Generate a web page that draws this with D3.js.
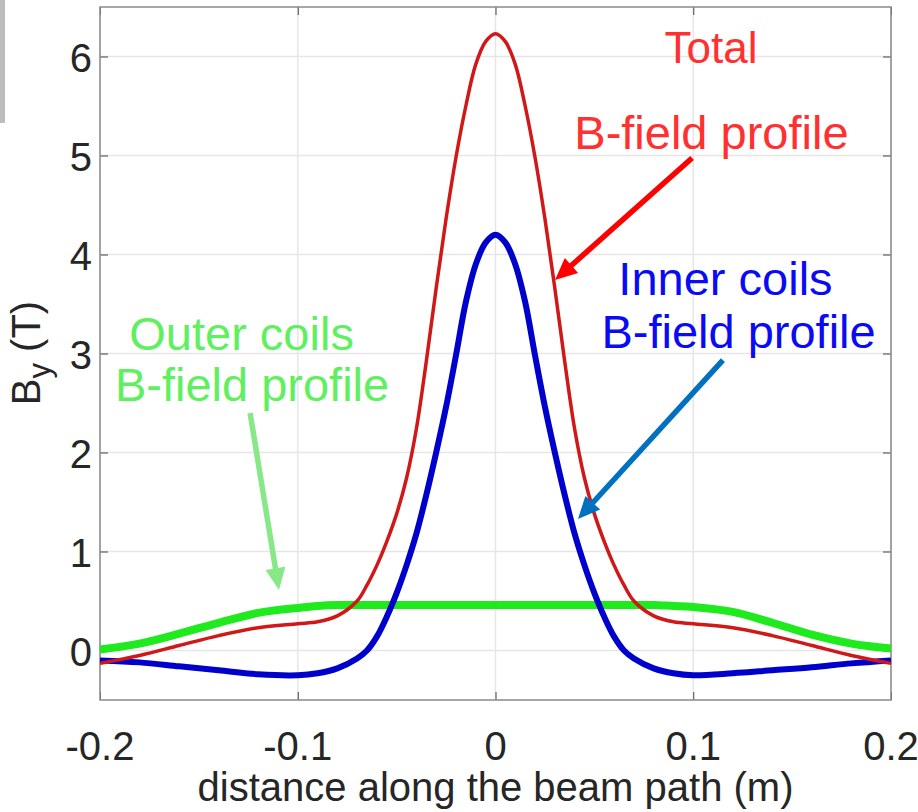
<!DOCTYPE html>
<html>
<head>
<meta charset="utf-8">
<script src="https://cdn.jsdelivr.net/npm/d3@7"></script>
<style>
    html, body { margin: 0; padding: 0; background: #fff; }
    svg { display: block; font-family: "Liberation Sans", Arial, sans-serif; }
</style>
</head>
<body>
<svg id="chart" width="918" height="812"></svg>
<script>
// distance along the beam path (m), denser sampling around the peak
const xPos = [-0.2, -0.18, -0.16, -0.14, -0.12, -0.1, -0.09, -0.08,
    -0.07, -0.065, -0.06, -0.055, -0.05, -0.045, -0.04, -0.035, -0.03, -0.025, -0.02, -0.015, -0.01, -0.005,
    0,
    0.005, 0.01, 0.015, 0.02, 0.025, 0.03, 0.035, 0.04, 0.045, 0.05, 0.055, 0.06, 0.065, 0.07,
    0.08, 0.09, 0.1, 0.12, 0.14, 0.16, 0.18, 0.2];

// By (T)
const totalField = [-0.13, -0.05, 0.05, 0.15, 0.23, 0.27, 0.29, 0.35,
    0.5, 0.66, 0.86, 1.1, 1.38, 1.74, 2.24, 2.92, 3.66, 4.36, 4.98, 5.5, 5.92, 6.15,
    6.23,
    6.15, 5.92, 5.5, 4.98, 4.36, 3.66, 2.92, 2.24, 1.74, 1.38, 1.1, 0.86, 0.66, 0.5,
    0.35, 0.29, 0.27, 0.23, 0.15, 0.05, -0.05, -0.13];
const innerField = [-0.1, -0.12, -0.16, -0.2, -0.24, -0.25, -0.23, -0.18,
    -0.08, 0.0, 0.14, 0.34, 0.58, 0.86, 1.18, 1.57, 2.0, 2.46, 2.98, 3.52, 3.9, 4.12,
    4.2,
    4.12, 3.9, 3.52, 2.98, 2.46, 2.0, 1.57, 1.18, 0.86, 0.58, 0.34, 0.14, 0.0, -0.08,
    -0.18, -0.23, -0.25, -0.23, -0.2, -0.17, -0.13, -0.1];
const outerField = [0.01, 0.07, 0.17, 0.28, 0.38, 0.43, 0.45, 0.46,
    0.46, 0.46, 0.46, 0.46, 0.46, 0.46, 0.46, 0.46, 0.46, 0.46, 0.46, 0.46, 0.46, 0.46,
    0.46,
    0.46, 0.46, 0.46, 0.46, 0.46, 0.46, 0.46, 0.46, 0.46, 0.46, 0.46, 0.46, 0.46, 0.46,
    0.46, 0.45, 0.44, 0.39, 0.28, 0.16, 0.07, 0.02];

const xTicks = [-0.2, -0.1, 0, 0.1, 0.2];
const xTickLabels = ['-0.2', '-0.1', '0', '0.1', '0.2'];
const yTicks = [0, 1, 2, 3, 4, 5, 6];

const svg = d3.select('#chart');
const plot = { left: 100, right: 891, top: 7, bottom: 700 };

const x = d3.scaleLinear().domain([-0.2, 0.2]).range([plot.left, plot.right]);
const y = d3.scaleLinear().domain([-0.5, 6.5]).range([plot.bottom, plot.top]);

// grey strip at the top left corner
svg.append('rect')
    .attr('x', 0).attr('y', 0)
    .attr('width', 5).attr('height', 123)
    .attr('fill', '#bcbcbc');

// grid
svg.append('g')
    .selectAll('line')
    .data(xTicks)
    .enter()
    .append('line')
    .attr('x1', function (d) { return x(d); })
    .attr('x2', function (d) { return x(d); })
    .attr('y1', plot.top)
    .attr('y2', plot.bottom)
    .attr('stroke', '#e6e6e6')
    .attr('stroke-width', 1.5);

svg.append('g')
    .selectAll('line')
    .data(yTicks)
    .enter()
    .append('line')
    .attr('x1', plot.left)
    .attr('x2', plot.right)
    .attr('y1', function (d) { return y(d); })
    .attr('y2', function (d) { return y(d); })
    .attr('stroke', '#e6e6e6')
    .attr('stroke-width', 1.5);

// axes, ticks pointing inwards on all four sides
const tickLen = 8;
svg.append('g')
    .attr('transform', 'translate(0,' + plot.bottom + ')')
    .call(d3.axisBottom(x).tickValues(xTicks).tickSize(-tickLen).tickFormat(''))
    .call(function (g) { g.select('.domain').remove(); });
svg.append('g')
    .attr('transform', 'translate(0,' + plot.top + ')')
    .call(d3.axisTop(x).tickValues(xTicks).tickSize(-tickLen).tickFormat(''))
    .call(function (g) { g.select('.domain').remove(); });
svg.append('g')
    .attr('transform', 'translate(' + plot.left + ',0)')
    .call(d3.axisLeft(y).tickValues(yTicks).tickSize(-tickLen).tickFormat(''))
    .call(function (g) { g.select('.domain').remove(); });
svg.append('g')
    .attr('transform', 'translate(' + plot.right + ',0)')
    .call(d3.axisRight(y).tickValues(yTicks).tickSize(-tickLen).tickFormat(''))
    .call(function (g) { g.select('.domain').remove(); });
svg.selectAll('.tick line').attr('stroke', '#444').attr('stroke-width', 1);

svg.append('rect')
    .attr('x', plot.left).attr('y', plot.top)
    .attr('width', plot.right - plot.left)
    .attr('height', plot.bottom - plot.top)
    .attr('fill', 'none')
    .attr('stroke', '#8a8a8a')
    .attr('stroke-width', 1.5);

// tick labels
svg.append('g')
    .selectAll('text')
    .data(xTicks)
    .enter()
    .append('text')
    .attr('x', function (d) { return x(d); })
    .attr('y', 760)
    .attr('text-anchor', 'middle')
    .attr('font-size', '40px')
    .attr('fill', '#262626')
    .text(function (d, i) { return xTickLabels[i]; });

svg.append('g')
    .selectAll('text')
    .data(yTicks)
    .enter()
    .append('text')
    .attr('x', 92)
    .attr('y', function (d) { return y(d) + 15; })
    .attr('text-anchor', 'end')
    .attr('font-size', '40px')
    .attr('fill', '#262626')
    .text(function (d) { return d; });

// axis titles
svg.append('text')
    .attr('x', x(0))
    .attr('y', 801)
    .attr('text-anchor', 'middle')
    .attr('font-size', '40px')
    .attr('fill', '#262626')
    .text('distance along the beam path (m)');

const yTitle = svg.append('text')
    .attr('transform', 'translate(40,353) rotate(-90)')
    .attr('text-anchor', 'middle')
    .attr('font-size', '40px')
    .attr('fill', '#262626');
yTitle.append('tspan').text('B');
yTitle.append('tspan').attr('dy', 10).attr('font-size', '31px').text('y');
yTitle.append('tspan').attr('dy', -10).text(' (T)');

// field profiles
const series = [
    { name: 'outer', values: outerField, color: '#1eea1e', width: 8 },
    { name: 'inner', values: innerField, color: '#0000cc', width: 6 },
    { name: 'total', values: totalField, color: '#d01818', width: 3.5 }
];

const line = d3.line()
    .x(function (d) { return x(d[0]); })
    .y(function (d) { return y(d[1]); })
    .curve(d3.curveCatmullRom.alpha(0.5));

svg.append('g')
    .selectAll('path')
    .data(series)
    .enter()
    .append('path')
    .attr('d', function (d) { return line(d3.zip(xPos, d.values)); })
    .attr('fill', 'none')
    .attr('stroke', function (d) { return d.color; })
    .attr('stroke-width', function (d) { return d.width; })
    .attr('stroke-linejoin', 'round');

// annotations (data coordinates)
const labels = [
    { text: 'Total', x: 0.109, y: 5.93, color: '#ff3030' },
    { text: 'B-field profile', x: 0.1092, y: 5.07, color: '#ff3030' },
    { text: 'Inner coils', x: 0.1163, y: 3.59, color: '#0a0af5' },
    { text: 'B-field profile', x: 0.1229, y: 3.06, color: '#0a0af5' },
    { text: 'Outer coils', x: -0.1284, y: 3.04, color: '#5ff05f' },
    { text: 'B-field profile', x: -0.1231, y: 2.52, color: '#5ff05f' }
];

svg.append('g')
    .selectAll('text')
    .data(labels)
    .enter()
    .append('text')
    .attr('x', function (d) { return x(d.x); })
    .attr('y', function (d) { return y(d.y); })
    .attr('text-anchor', 'middle')
    .attr('font-size', function (d) { return d.text === 'Total' ? '44px' : '47px'; })
    .attr('fill', function (d) { return d.color; })
    .text(function (d) { return d.text; });

const arrows = [
    { x1: 0.0994, y1: 4.975, x2: 0.0301, y2: 3.742, color: '#ff0000' },
    { x1: 0.115, y1: 2.934, x2: 0.0417, y2: 1.328, color: '#0070c0' },
    { x1: -0.1241, y1: 2.399, x2: -0.1095, y2: 0.611, color: '#88e888' }
];

const headLen = 22;
const headHalf = 10;
arrows.forEach(function (a) {
    const sx = x(a.x1), sy = y(a.y1), tx = x(a.x2), ty = y(a.y2);
    const len = Math.hypot(tx - sx, ty - sy);
    const ux = (tx - sx) / len, uy = (ty - sy) / len;
    const bx = tx - ux * headLen, by = ty - uy * headLen;
    svg.append('line')
        .attr('x1', sx).attr('y1', sy)
        .attr('x2', bx + ux * 2).attr('y2', by + uy * 2)
        .attr('stroke', a.color)
        .attr('stroke-width', 5.5);
    svg.append('path')
        .attr('d', 'M' + tx + ',' + ty +
            'L' + (bx - uy * headHalf) + ',' + (by + ux * headHalf) +
            'L' + (bx + uy * headHalf) + ',' + (by - ux * headHalf) + 'Z')
        .attr('fill', a.color);
});
</script>
</body>
</html>
